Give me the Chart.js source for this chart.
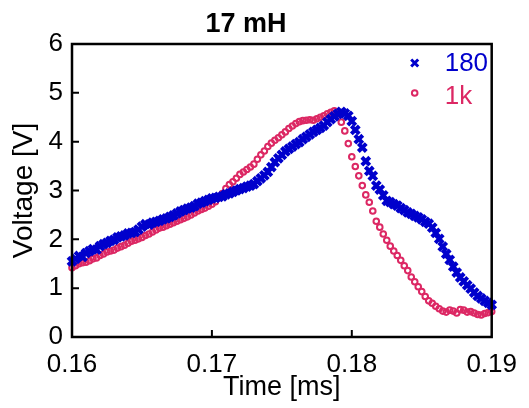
<!DOCTYPE html>
<html>
<head>
<meta charset="utf-8">
<title>17 mH</title>
<script src="https://cdn.jsdelivr.net/npm/chart.js@4.4.1/dist/chart.umd.min.js"></script>
<style>
  html, body { margin: 0; padding: 0; background: #fff; }
  #wrap { width: 529px; height: 408px; }
</style>
</head>
<body>
<div id="wrap"><canvas id="chart" width="529" height="408"></canvas></div>
<script>
// Sampling grid of the scope trace (ms)
const sampleStart = 0.16;
const sampleStep = 0.00025;

// Voltage [V], one value per sample
const v180 = [
    1.55, 1.60, 1.66, 1.64, 1.72, 1.76, 1.80, 1.79, 1.86, 1.90,
    1.93, 1.97, 1.99, 2.04, 2.06, 2.08, 2.12, 2.13, 2.15, 2.20,
    2.26, 2.31, 2.30, 2.34, 2.36, 2.38, 2.41, 2.43, 2.46, 2.49,
    2.53, 2.57, 2.60, 2.63, 2.65, 2.68, 2.73, 2.75, 2.78, 2.81,
    2.84, 2.85, 2.87, 2.88, 2.92, 2.94, 2.97, 3.00, 3.03, 3.05,
    3.08, 3.10, 3.13, 3.19, 3.25, 3.31, 3.38, 3.48, 3.58, 3.66,
    3.73, 3.80, 3.85, 3.90, 3.95, 3.99, 4.05, 4.10, 4.15, 4.20,
    4.24, 4.28, 4.33, 4.40, 4.46, 4.52, 4.57, 4.61, 4.58, 4.53,
    4.42, 4.24, 4.05, 3.88, 3.60, 3.40, 3.30, 3.10, 3.02, 2.90,
    2.79, 2.76, 2.72, 2.69, 2.64, 2.60, 2.55, 2.52, 2.48, 2.45,
    2.41, 2.36, 2.32, 2.24, 2.13, 2.01, 1.85, 1.70, 1.58, 1.44,
    1.32, 1.22, 1.14, 1.06, 0.99, 0.91, 0.84, 0.79, 0.74, 0.70,
    0.66
];
const v1k = [
    1.42, 1.46, 1.50, 1.52, 1.53, 1.56, 1.60, 1.62, 1.67, 1.70,
    1.74, 1.76, 1.78, 1.82, 1.85, 1.88, 1.92, 1.96, 1.98, 2.01,
    2.04, 2.08, 2.11, 2.15, 2.19, 2.23, 2.25, 2.28, 2.31, 2.34,
    2.37, 2.40, 2.43, 2.46, 2.50, 2.54, 2.58, 2.61, 2.64, 2.68,
    2.72, 2.77, 2.85, 2.94, 3.04, 3.12, 3.18, 3.25, 3.33, 3.38,
    3.43, 3.48, 3.54, 3.64, 3.73, 3.81, 3.90, 3.97, 4.03, 4.08,
    4.14, 4.20, 4.27, 4.32, 4.37, 4.41, 4.43, 4.44, 4.45, 4.44,
    4.47, 4.50, 4.53, 4.57, 4.60, 4.63, 4.57, 4.40, 4.22, 3.96,
    3.69, 3.49, 3.30, 3.10, 2.91, 2.76, 2.58, 2.37, 2.25, 2.11,
    1.98, 1.86, 1.76, 1.67, 1.57, 1.46, 1.36, 1.23, 1.13, 1.03,
    0.93, 0.83, 0.74, 0.69, 0.63, 0.58, 0.53, 0.51, 0.55, 0.53,
    0.49, 0.56, 0.55, 0.51, 0.52, 0.49, 0.46, 0.45, 0.48, 0.50,
    0.52
];

const seriesNames = ['180', '1k'];
const seriesColors = ['rgb(0, 0, 204)', 'rgb(220, 40, 100)'];
const xTicks = [0.16, 0.17, 0.18, 0.19];
const yTicks = [0, 1, 2, 3, 4, 5, 6];

function toPoints(values) {
    return values.map((v, i) => ({ x: sampleStart + i * sampleStep, y: v }));
}

const fontFamily = '"Liberation Sans", Arial, sans-serif';

// Box around the plot, inward tick marks and the legend inside the plot
const framePlugin = {
    id: 'frame',
    afterDatasetsDraw(chart) {
        const { ctx, chartArea: a, scales } = chart;
        ctx.save();
        ctx.strokeStyle = '#000';
        ctx.lineWidth = 2.5;
        ctx.strokeRect(a.left, a.top, a.right - a.left, a.bottom - a.top);

        ctx.lineWidth = 2;
        ctx.beginPath();
        yTicks.slice(1, -1).forEach(v => {
            const y = scales.y.getPixelForValue(v);
            ctx.moveTo(a.left, y);
            ctx.lineTo(a.left + 7, y);
        });
        xTicks.slice(1, -1).forEach(v => {
            const x = scales.x.getPixelForValue(v);
            ctx.moveTo(x, a.bottom);
            ctx.lineTo(x, a.bottom - 7);
        });
        ctx.stroke();

        // legend
        ctx.font = '26px ' + fontFamily;
        ctx.textBaseline = 'middle';
        ctx.textAlign = 'left';
        const lx = a.right - 77;
        const rows = [a.top + 19, a.top + 52];

        // cross for 180
        ctx.strokeStyle = seriesColors[0];
        ctx.lineWidth = 3;
        ctx.beginPath();
        ctx.moveTo(lx - 3.5, rows[0] - 3.5); ctx.lineTo(lx + 3.5, rows[0] + 3.5);
        ctx.moveTo(lx + 3.5, rows[0] - 3.5); ctx.lineTo(lx - 3.5, rows[0] + 3.5);
        ctx.stroke();
        ctx.fillStyle = seriesColors[0];
        ctx.fillText(seriesNames[0], lx + 30, rows[0] + 1);

        // circle for 1k
        ctx.strokeStyle = seriesColors[1];
        ctx.lineWidth = 2;
        ctx.beginPath();
        ctx.arc(lx, rows[1] - 3, 2.8, 0, Math.PI * 2);
        ctx.stroke();
        ctx.fillStyle = seriesColors[1];
        ctx.fillText(seriesNames[1], lx + 30, rows[1] + 1);
        ctx.restore();
    }
};

new Chart(document.getElementById('chart'), {
    type: 'scatter',
    data: {
        datasets: [
            {
                label: seriesNames[0],
                data: toPoints(v180),
                pointStyle: 'crossRot',
                pointRadius: 5.6,
                borderWidth: 4,
                borderColor: seriesColors[0],
                backgroundColor: seriesColors[0],
                clip: false
            },
            {
                label: seriesNames[1],
                data: toPoints(v1k),
                pointStyle: 'circle',
                pointRadius: 2.8,
                borderWidth: 2,
                borderColor: seriesColors[1],
                backgroundColor: 'rgba(255, 255, 255, 0)',
                clip: false
            }
        ]
    },
    options: {
        responsive: false,
        animation: false,
        layout: { padding: { left: 0, right: 37, top: 0, bottom: 0 } },
        plugins: {
            legend: { display: false },
            tooltip: { enabled: false },
            title: {
                display: true,
                text: '17 mH',
                color: '#000',
                font: { family: fontFamily, size: 27, weight: 'bold' },
                padding: { top: 8, bottom: 3.6 }
            }
        },
        scales: {
            x: {
                type: 'linear',
                min: 0.16,
                max: 0.19,
                afterBuildTicks: scale => { scale.ticks = xTicks.map(v => ({ value: v })); },
                afterFit: scale => { scale.height = 71; },
                grid: { display: false, drawTicks: false },
                border: { display: false },
                ticks: {
                    color: '#000',
                    font: { family: fontFamily, size: 26 },
                    padding: 12,
                    maxRotation: 0,
                    callback: v => v.toFixed(2)
                },
                title: {
                    display: true,
                    text: 'Time [ms]',
                    color: '#000',
                    font: { family: fontFamily, size: 27 },
                    padding: { top: 0, bottom: 4 }
                }
            },
            y: {
                min: 0,
                max: 6,
                afterBuildTicks: scale => { scale.ticks = yTicks.map(v => ({ value: v })); },
                afterFit: scale => { scale.width = 72; },
                grid: { display: false, drawTicks: false },
                border: { display: false },
                ticks: {
                    color: '#000',
                    font: { family: fontFamily, size: 26 },
                    padding: 9
                },
                title: {
                    display: true,
                    text: 'Voltage [V]',
                    color: '#000',
                    font: { family: fontFamily, size: 28 },
                    padding: { top: 7, bottom: 0 }
                }
            }
        }
    },
    plugins: [framePlugin]
});
</script>
</body>
</html>
